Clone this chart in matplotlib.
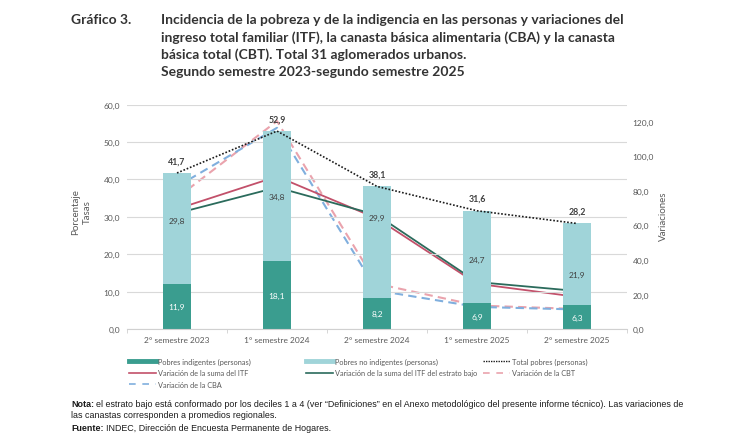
import matplotlib
matplotlib.use("Agg")
import matplotlib.pyplot as plt
from matplotlib.lines import Line2D
from matplotlib.ticker import FuncFormatter
import numpy as np

# ---------------- data ----------------
categories = ["2° semestre 2023", "1° semestre 2024", "2° semestre 2024",
              "1° semestre 2025", "2° semestre 2025"]
indigentes = [11.9, 18.1, 8.2, 6.9, 6.3]
no_indigentes = [29.8, 34.8, 29.9, 24.7, 21.9]
total_pobres = [41.7, 52.9, 38.1, 31.6, 28.2]
var_itf = [69.5, 88.3, 64.0, 26.2, 18.6]
var_itf_bajo = [67.0, 82.0, 66.0, 27.2, 22.0]
var_cbt = [76.0, 120.4, 26.2, 13.6, 11.6]
var_cba = [82.5, 116.5, 22.3, 12.8, 11.3]
left_ticks = [0, 10, 20, 30, 40, 50, 60]
right_ticks = [0, 20, 40, 60, 80, 100, 120]

# label nudges (pixels, positive = up) for the non-indigent labels
noind_nudge_px = [8, 0, 25, -2, -10]

# ---------------- style ----------------
W, H = 750, 439
C_IND = "#3a9d8f"
C_NOIND = "#a0d4d9"
C_ITF = "#c2506a"
C_ITFB = "#2b6b5c"
C_CBT = "#eaa3ad"
C_CBA = "#80afde"
C_TXT = "#595959"
chart_font = ["Lato", "DejaVu Sans"]
plt.rcParams["font.family"] = chart_font

fig = plt.figure(figsize=(W / 100, H / 100), dpi=100)
fig.patch.set_facecolor("white")

ax_l, ax_r, ax_t, ax_b = 127, 627, 105.5, 330
ax = fig.add_axes([ax_l / W, 1 - ax_b / H, (ax_r - ax_l) / W, (ax_b - ax_t) / H])
ax2 = ax.twinx()

x = np.arange(len(categories))
bw = 0.285

ax.bar(x, indigentes, bw, color=C_IND, zorder=2, label="Pobres indigentes (personas)")
ax.bar(x, no_indigentes, bw, bottom=indigentes, color=C_NOIND, zorder=2,
       label="Pobres no indigentes (personas)")
ax.plot(x, total_pobres, color="#1a1a1a", lw=1.2, ls=(0, (1, 1.1)), zorder=6,
        label="Total pobres (personas)")

ax.set_xlim(-0.5, len(categories) - 0.5)
ax.set_ylim(0, 60)
ax.set_yticks(left_ticks)
fmt = FuncFormatter(lambda v, p: f"{v:.1f}".replace(".", ","))
ax.yaxis.set_major_formatter(fmt)
ax.set_xticks(x)
ax.set_xticklabels(categories)
ax.set_xticks(np.arange(len(categories) + 1) - 0.5, minor=True)
ax.tick_params(axis="x", which="major", length=0, pad=5, labelsize=6, colors=C_TXT)
ax.tick_params(axis="x", which="minor", length=3, color="#d0d0d0", width=0.6)
ax.tick_params(axis="y", length=0, pad=5, labelsize=6, colors=C_TXT)
ax.grid(axis="y", color="#d9d9d9", lw=0.8, zorder=0)
ax.set_axisbelow(True)
for s in ["top", "right", "left"]:
    ax.spines[s].set_visible(False)
ax.spines["bottom"].set_color("#d0d0d0")
ax.spines["bottom"].set_linewidth(0.8)

ax2.plot(x, var_itf, color=C_ITF, lw=1.3, zorder=5, label="Variación de la suma del ITF")
ax2.plot(x, var_itf_bajo, color=C_ITFB, lw=1.3, zorder=5,
         label="Variación de la suma del ITF del estrato bajo")
ax2.plot(x, var_cbt, color=C_CBT, lw=1.5, ls=(0, (4, 2.5)), zorder=4, label="Variación de la CBT")
ax2.plot(x, var_cba, color=C_CBA, lw=1.5, ls=(0, (4, 2.5)), zorder=4, label="Variación de la CBA")
ax2.set_ylim(0, 130)
ax2.set_yticks(right_ticks)
ax2.yaxis.set_major_formatter(fmt)
ax2.tick_params(axis="y", length=0, pad=4, labelsize=6, colors=C_TXT)
for s in ["top", "right", "left", "bottom"]:
    ax2.spines[s].set_visible(False)
ax.set_zorder(ax2.get_zorder() + 1)
ax.patch.set_visible(False)

# data labels
for i in range(len(categories)):
    ax.annotate(f"{indigentes[i]:.1f}".replace(".", ","), (x[i], indigentes[i] / 2),
                ha="center", va="center", fontsize=6, color="white", zorder=3)
    ax.annotate(f"{no_indigentes[i]:.1f}".replace(".", ","),
                (x[i], indigentes[i] + no_indigentes[i] / 2),
                xytext=(0, noind_nudge_px[i] * 0.72), textcoords="offset points",
                ha="center", va="center", fontsize=6, color="#404040", zorder=3)
    ax.annotate(f"{total_pobres[i]:.1f}".replace(".", ","), (x[i], total_pobres[i]),
                xytext=(0, 8.8), textcoords="offset points",
                ha="center", va="center", fontsize=6.3, fontweight="bold",
                color="#404040", zorder=7)

# axis titles
fig.text(81.5 / W, 1 - 212 / H, "Porcentaje\nTasas", rotation=90, ha="center", va="center",
         multialignment="center", fontsize=7, color=C_TXT, linespacing=1.45)
fig.text(663 / W, 1 - 216 / H, "Variaciones", rotation=90, ha="center", va="center",
         fontsize=7, color=C_TXT)

# legend (three columns)
h_ind = Line2D([], [], color=C_IND, lw=3.5)
h_noind = Line2D([], [], color=C_NOIND, lw=3.5)
h_tot = Line2D([], [], color="#1a1a1a", lw=1.0, ls=(0, (1, 0.8)))
h_itf = Line2D([], [], color=C_ITF, lw=1.2)
h_itfb = Line2D([], [], color=C_ITFB, lw=1.2)
h_cbt = Line2D([], [], color=C_CBT, lw=1.2, ls=(0, (4, 4)))
h_cba = Line2D([], [], color=C_CBA, lw=1.2, ls=(0, (4, 4)))
cols = [
    ([h_ind, h_itf, h_cba], ["Pobres indigentes (personas)", "Variación de la suma del ITF",
                             "Variación de la CBA"], 129),
    ([h_noind, h_itfb], ["Pobres no indigentes (personas)",
                         "Variación de la suma del ITF del estrato bajo"], 306),
    ([h_tot, h_cbt], ["Total pobres (personas)", "Variación de la CBT"], 483),
]
for hs, ls_, xpx in cols:
    fig.legend(hs, ls_, loc="upper left", bbox_to_anchor=(xpx / W, 1 - 358.5 / H),
               frameon=False, fontsize=5.3, handlelength=3.6, handletextpad=0.35,
               labelspacing=0.6, borderpad=0, borderaxespad=0, labelcolor=C_TXT)

# title
tfont = ["Lato", "DejaVu Sans"]
TS = 10.0
fig.text(71 / W, 1 - 20 / H, "Gráfico 3.", ha="left", va="center", fontsize=TS,
         fontweight="bold", color="#333333", family=tfont)
title_lines = [
    "Incidencia de la pobreza y de la indigencia en las personas y variaciones del",
    "ingreso total familiar (ITF), la canasta básica alimentaria (CBA) y la canasta",
    "básica total (CBT). Total 31 aglomerados urbanos.",
    "Segundo semestre 2023-segundo semestre 2025",
]
for k, t in enumerate(title_lines):
    fig.text(161 / W, 1 - (20 + 17.2 * k) / H, t, ha="left", va="center", fontsize=TS,
             fontweight="bold", color="#333333", family=tfont)

# footer
ffont = ["Liberation Sans Narrow", "Liberation Sans", "DejaVu Sans"]
def rich(xpx, ypx, bold, rest):
    t1 = fig.text(xpx / W, 1 - ypx / H, bold, ha="left", va="center", fontsize=6.4,
                  fontweight="bold", color="#1a1a1a", family=ffont)
    fig.canvas.draw()
    bb = t1.get_window_extent()
    fig.text(bb.x1 / W + 2.5 / W, 1 - ypx / H, rest, ha="left", va="center", fontsize=6.4,
             color="#1a1a1a", family=ffont)
rich(71, 405, "Nota:", "el estrato bajo está conformado por los deciles 1 a 4 (ver \u201cDefiniciones\u201d en el Anexo metodológico del presente informe técnico). Las variaciones de")
fig.text(71 / W, 1 - 416 / H, "las canastas corresponden a promedios regionales.", ha="left",
         va="center", fontsize=6.4, color="#1a1a1a", family=ffont)
rich(71, 429, "Fuente:", "INDEC, Dirección de Encuesta Permanente de Hogares.")

fig.savefig("out.png", dpi=100, facecolor="white")
